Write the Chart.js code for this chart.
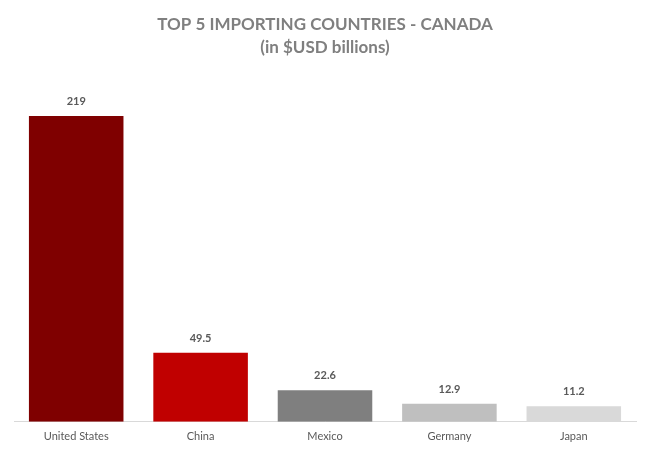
<!DOCTYPE html>
<html>
<head>
<meta charset="utf-8">
<script src="https://cdn.jsdelivr.net/npm/chart.js@4/dist/chart.umd.min.js"></script>
<style>
  html, body { margin: 0; padding: 0; background: #fff; }
  #wrap { width: 650px; height: 451px; }
</style>
</head>
<body>
<div id="wrap"><canvas id="chart"></canvas></div>
<script>
const countries = ['United States', 'China', 'Mexico', 'Germany', 'Japan'];
const imports = [219, 49.5, 22.6, 12.9, 11.2];
const barColors = ['#7f0000', '#c00000', '#7f7f7f', '#bfbfbf', '#d9d9d9'];
const valueLabels = ['219', '49.5', '22.6', '12.9', '11.2'];

// draws the value above each bar
const valueLabelPlugin = {
    id: 'valueLabels',
    afterDatasetsDraw(chart) {
        const ctx = chart.ctx;
        const meta = chart.getDatasetMeta(0);
        ctx.save();
        ctx.font = 'bold 11px Lato, "Open Sans", sans-serif';
        ctx.fillStyle = '#595959';
        ctx.textAlign = 'center';
        ctx.textBaseline = 'bottom';
        meta.data.forEach((bar, i) => {
            ctx.fillText(valueLabels[i], bar.x, bar.y - 9);
        });
        ctx.restore();
    }
};

const ctx = document.getElementById('chart');

new Chart(ctx, {
    type: 'bar',
    data: {
        labels: countries,
        datasets: [{
            label: 'Imports',
            data: imports,
            backgroundColor: barColors,
            borderWidth: 0,
            categoryPercentage: 1,
            barPercentage: 0.76
        }]
    },
    options: {
        responsive: true,
        maintainAspectRatio: false,
        animation: false,
        layout: { padding: { left: 14, right: 14, top: 0, bottom: 8 } },
        plugins: {
            legend: { display: false },
            tooltip: { enabled: false },
            title: {
                display: true,
                text: ['TOP 5 IMPORTING COUNTRIES - CANADA', '(in $USD billions)'],
                color: '#7f7f7f',
                font: { family: 'Lato, "Open Sans", sans-serif', size: 17, weight: 'bold', lineHeight: 1.35 },
                padding: { top: 13, bottom: 18 }
            }
        },
        scales: {
            x: {
                grid: { display: false },
                border: { display: true, color: '#d9d9d9', width: 1 },
                ticks: {
                    color: '#595959',
                    font: { family: 'Lato, "Open Sans", sans-serif', size: 11 },
                    padding: 0
                }
            },
            y: {
                display: false,
                beginAtZero: true,
                max: 247
            }
        }
    },
    plugins: [valueLabelPlugin]
});
</script>
</body>
</html>
